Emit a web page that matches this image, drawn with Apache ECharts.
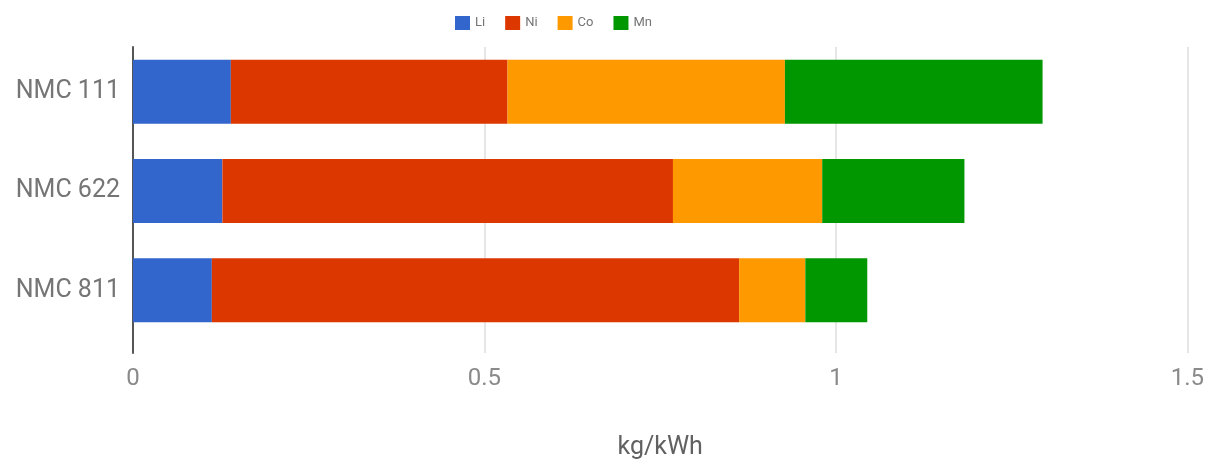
<!DOCTYPE html>
<html>
<head>
<meta charset="utf-8">
<script src="https://cdn.jsdelivr.net/npm/echarts@6/dist/echarts.min.js"></script>
<style>
  html, body { margin: 0; padding: 0; background: #fff; }
  #chart { width: 1207px; height: 465px; }
</style>
</head>
<body>
<div id="chart"></div>
<script>
// Cathode chemistries and metal content per kWh of cell capacity
const categories = ['NMC 111', 'NMC 622', 'NMC 811'];
const li = [0.139, 0.127, 0.112];
const ni = [0.393, 0.640, 0.749];
const co = [0.394, 0.212, 0.094];
const mn = [0.366, 0.202, 0.088];
const xTicks = [0, 0.5, 1, 1.5];

const colors = ['#3366cc', '#dd3700', '#ff9900', '#009700'];
const font = 'Roboto, "Noto Sans", sans-serif';

function barSeries(name, data) {
  return {
    name: name,
    type: 'bar',
    stack: 'total',
    xAxisIndex: 0,
    yAxisIndex: 0,
    barWidth: 64,
    data: data,
    emphasis: { disabled: true }
  };
}

const chart = echarts.init(document.getElementById('chart'));
chart.setOption({
  animation: false,
  color: colors,
  textStyle: { fontFamily: font },
  legend: {
    left: 450,
    top: 11,
    itemWidth: 15,
    itemHeight: 14,
    itemGap: 20,
    icon: 'rect',
    textStyle: { fontSize: 13, color: '#757575', fontFamily: font },
    data: ['Li', 'Ni', 'Co', 'Mn']
  },
  grid: [
    // bars
    { left: 133, right: 18, top: 42, height: 298 },
    // frame: gridlines, baseline and tick labels
    { left: 133, right: 18, top: 47, bottom: 112 }
  ],
  xAxis: [
    {
      type: 'value', gridIndex: 0, min: xTicks[0], max: xTicks[xTicks.length - 1], interval: 0.5,
      show: false
    },
    {
      type: 'value', gridIndex: 1, min: xTicks[0], max: xTicks[xTicks.length - 1], interval: 0.5,
      axisLine: { show: false },
      axisTick: { show: false },
      splitLine: { show: true, lineStyle: { color: '#e6e6e6', width: 2 } },
      axisLabel: {
        fontSize: 24, color: '#8a8a8a', margin: 14, fontFamily: font,
        showMinLabel: true, showMaxLabel: true
      },
      name: 'kg/kWh',
      nameLocation: 'middle',
      nameGap: 82,
      nameTextStyle: { fontSize: 25, color: '#616161', fontFamily: font }
    }
  ],
  yAxis: [
    {
      type: 'category', gridIndex: 0, inverse: true, data: categories,
      axisLine: { show: false },
      axisTick: { show: false },
      splitLine: { show: false },
      axisLabel: { fontSize: 25, color: '#757575', margin: 13, fontFamily: font }
    },
    {
      type: 'value', gridIndex: 1, min: 0, max: 1,
      axisLine: { show: true, onZero: false, lineStyle: { color: '#555555', width: 2 } },
      axisTick: { show: false },
      axisLabel: { show: false },
      splitLine: { show: false }
    }
  ],
  series: [
    barSeries('Li', li),
    barSeries('Ni', ni),
    barSeries('Co', co),
    barSeries('Mn', mn)
  ]
});
</script>
</body>
</html>
